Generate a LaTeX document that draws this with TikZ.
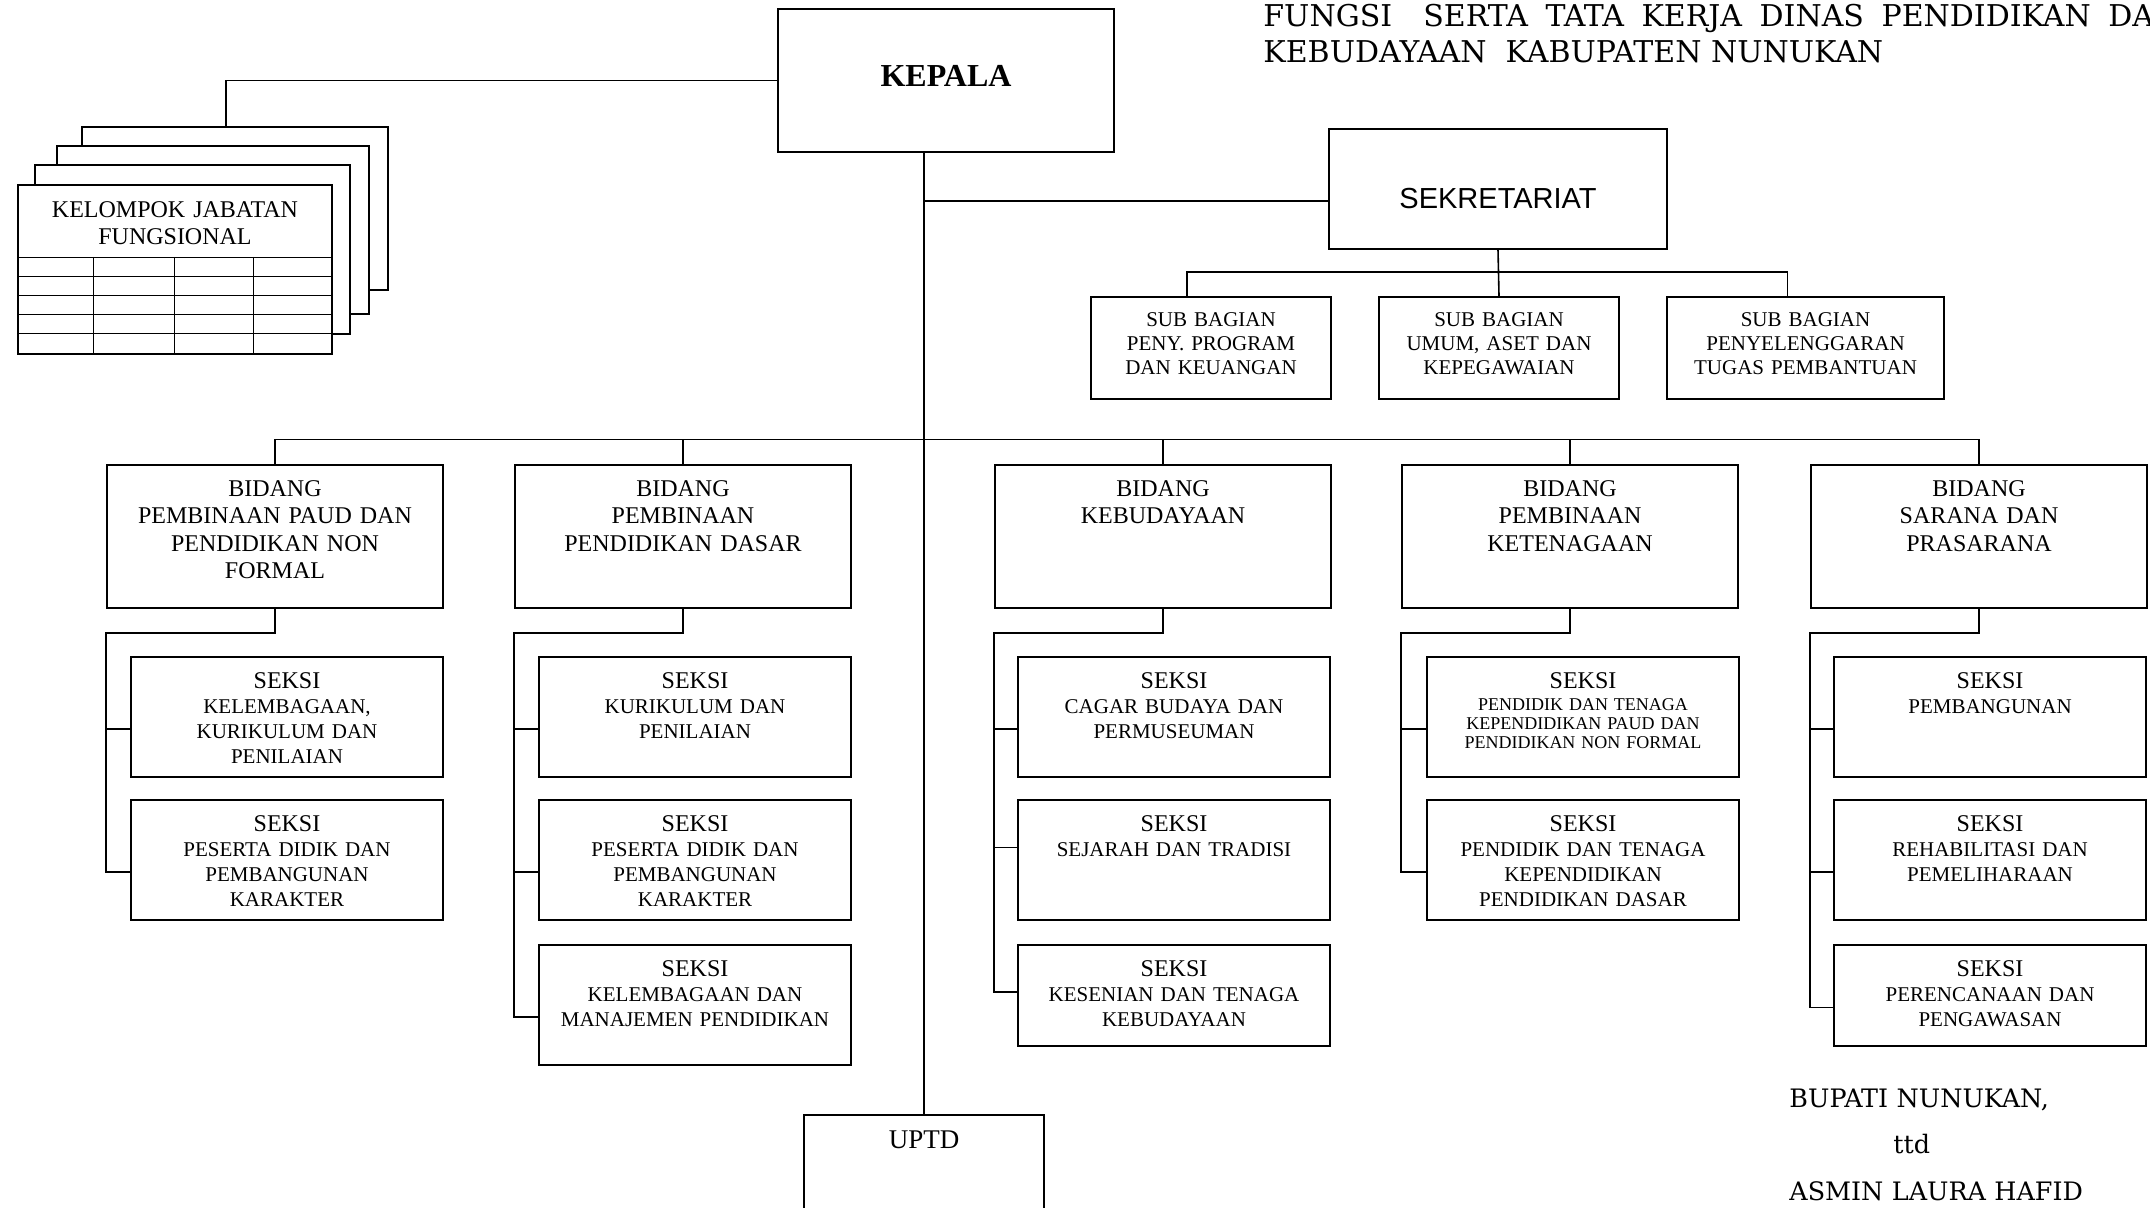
\documentclass[tikz,border=0pt]{standalone}
\usepackage{fontspec}
\setmainfont{Liberation Serif}
\newfontfamily\sekfont{Liberation Sans}
\newfontfamily\bookfont{DejaVu Serif}
\usetikzlibrary{calc}

\tikzset{
  box/.style={draw, line width=1pt, inner sep=0pt, anchor=north west, align=center},
  bidang/.style={box, text width=168pt, text height=15.85pt, text depth=55.9pt, font=\fontsize{12}{13.7}\selectfont},
  seksi/.style={box, text width=156pt, text height=15.6pt, text depth=#1, font=\fontsize{10.5}{12.5}\selectfont},
  seksi/.default=44.4pt,
  subbag/.style={box, text width=#1, text height=14.6pt, text depth=36.4pt, font=\fontsize{10.5}{12}\selectfont},
  subbag/.default=120pt,
  page/.style={draw, line width=1pt, fill=white},
  conn/.style={line width=0.8pt},
  titel/.style={anchor=base west, inner sep=0pt, font=\bookfont\fontsize{15}{16}\selectfont},
}
\newcommand{\seksihead}{{\fontsize{12}{12}\selectfont SEKSI}}

\begin{document}
\begin{tikzpicture}[x=0.5pt,y=0.5pt,yscale=-1]
\useasboundingbox (0,0) rectangle (2150,1208);

% judul
\node[titel] (judul1) at (1263,27) {\makebox[80pt][l]{FUNGSI}\makebox[342.5pt][s]{SERTA TATA KERJA DINAS PENDIDIKAN\ }DAN};
\node[titel] (judul2) at (1263,63) {KEBUDAYAAN\ \ KABUPATEN NUNUKAN};

% kepala, sekretariat, uptd
\node[box, text width=168pt, text height=39pt, text depth=32.5pt, font=\bfseries\fontsize{16}{16}\selectfont] (kepala) at (777,8) {KEPALA};
\node[box, text width=169pt, text height=40pt, text depth=20pt, font=\sekfont\fontsize{14.5}{15}\selectfont] (sek) at (1328,128) {SEKRETARIAT};
\node[box, text width=120pt, text height=16.5pt, text depth=100pt, font=\fontsize{13.5}{14}\selectfont] (uptd) at (803,1114) {UPTD};

% kelompok jabatan fungsional
\draw[page] (82,127) rectangle (388,290);
\draw[page] (57,146) rectangle (369,314);
\draw[page] (35,165) rectangle (350,334);
\node[box, fill=white, text width=157pt, text height=16.3pt, text depth=68.2pt, font=\fontsize{12}{13.5}\selectfont] (jf) at (17,184) {KELOMPOK JABATAN\\FUNGSIONAL};
\foreach \y in {257,276,295,314,333} \draw (jf.west |- 0,\y) -- (jf.east |- 0,\y);
\foreach \x in {93,174,253} \draw (\x,257) -- (\x,0 |- jf.south);
\coordinate (jftop) at (226,127);

% sub bagian
\node[subbag] (sb1) at (1090,296) {SUB BAGIAN\\PENY. PROGRAM\\DAN KEUANGAN};
\node[subbag] (sb2) at (1378,296) {SUB BAGIAN\\UMUM, ASET DAN\\KEPEGAWAIAN};
\node[subbag=138.5pt] (sb3) at (1666,296) {SUB BAGIAN\\PENYELENGGARAN\\TUGAS PEMBANTUAN};

% bidang
\node[bidang] (b1) at (106,463.5) {BIDANG\\PEMBINAAN PAUD DAN\\PENDIDIKAN NON\\FORMAL};
\node[bidang] (b2) at (514,463.5) {BIDANG\\PEMBINAAN\\PENDIDIKAN DASAR};
\node[bidang] (b3) at (994,463.5) {BIDANG\\KEBUDAYAAN};
\node[bidang] (b4) at (1401,463.5) {BIDANG\\PEMBINAAN\\KETENAGAAN};
\node[bidang] (b5) at (1810,463.5) {BIDANG\\SARANA DAN\\PRASARANA};

% seksi
\node[seksi] (s11) at (130,656) {\seksihead\\KELEMBAGAAN,\\KURIKULUM DAN\\PENILAIAN};
\node[seksi] (s12) at (130,799) {\seksihead\\PESERTA DIDIK DAN\\PEMBANGUNAN\\KARAKTER};

\node[seksi] (s21) at (538,656) {\seksihead\\KURIKULUM DAN\\PENILAIAN};
\node[seksi] (s22) at (538,799) {\seksihead\\PESERTA DIDIK DAN\\PEMBANGUNAN\\KARAKTER};
\node[seksi] (s23) at (538,944) {\seksihead\\KELEMBAGAAN DAN\\MANAJEMEN PENDIDIKAN};

\node[seksi] (s31) at (1017,656) {\seksihead\\CAGAR BUDAYA DAN\\PERMUSEUMAN};
\node[seksi] (s32) at (1017,799) {\seksihead\\SEJARAH DAN TRADISI};
\node[seksi=34.9pt] (s33) at (1017,944) {\seksihead\\KESENIAN DAN TENAGA\\KEBUDAYAAN};

\node[seksi, font=\fontsize{9}{9.3}\selectfont] (s41) at (1426,656) {\seksihead\\[2pt]PENDIDIK DAN TENAGA\\KEPENDIDIKAN PAUD DAN\\PENDIDIKAN NON FORMAL};
\node[seksi] (s42) at (1426,799) {\seksihead\\PENDIDIK DAN TENAGA\\KEPENDIDIKAN\\PENDIDIKAN DASAR};

\node[seksi] (s51) at (1833,656) {\seksihead\\PEMBANGUNAN};
\node[seksi] (s52) at (1833,799) {\seksihead\\REHABILITASI DAN\\PEMELIHARAAN};
\node[seksi=34.9pt] (s53) at (1833,944) {\seksihead\\PERENCANAAN DAN\\PENGAWASAN};

\node[titel, text width=200pt, align=left, font=\bookfont\fontsize{12.7}{23.25}\selectfont] (ttd) at (1789,1107) {BUPATI NUNUKAN,\\\hspace*{52pt}ttd\\ASMIN LAURA HAFID};

% garis
\draw[conn] (kepala.west) -| (jftop);
\draw[conn] (kepala.south -| uptd.north) -- (uptd.north);
\coordinate (sekin) at ($(sek.west)+(0,12)$);
\draw[conn] (sekin) -- (sekin -| uptd.north);
\draw[conn] (sek.south) -- (sb2.north);
\draw[conn] ($(sb1.north)+(-24,0)$) -- ++(0,-24) -| ($(sb3.north)+(-18,0)$);

\draw[conn] (b1.north) -- ++(0,-24) -| (b5.north);
\draw[conn] (b2.north) -- ++(0,-24);
\draw[conn] (b3.north) -- ++(0,-24);
\draw[conn] (b4.north) -- ++(0,-24);

\draw[conn] (b1.south) -- ++(0,24) -| ($(s12.west)+(-24,12)$) -- ($(s12.west)+(0,12)$);
\draw[conn] ($(s11.west)+(-24,12)$) -- ($(s11.west)+(0,12)$);

\draw[conn] (b2.south) -- ++(0,24) -| ($(s23.west)+(-24,12)$) -- ($(s23.west)+(0,12)$);
\draw[conn] ($(s21.west)+(-24,12)$) -- ($(s21.west)+(0,12)$);
\draw[conn] ($(s22.west)+(-24,12)$) -- ($(s22.west)+(0,12)$);

\draw[conn] (b3.south) -- ++(0,24) -| ($(s33.west)+(-23,-3.5)$) -- ($(s33.west)+(0,-3.5)$);
\draw[conn] ($(s31.west)+(-23,12)$) -- ($(s31.west)+(0,12)$);
\draw[conn] ($(s32.west)+(-23,-12.5)$) -- ($(s32.west)+(0,-12.5)$);

\draw[conn] (b4.south) -- ++(0,24) -| ($(s42.west)+(-25,12)$) -- ($(s42.west)+(0,12)$);
\draw[conn] ($(s41.west)+(-25,12)$) -- ($(s41.west)+(0,12)$);

\draw[conn] (b5.south) -- ++(0,24) -| ($(s53.west)+(-23,12)$) -- ($(s53.west)+(0,12)$);
\draw[conn] ($(s51.west)+(-23,12)$) -- ($(s51.west)+(0,12)$);
\draw[conn] ($(s52.west)+(-23,12)$) -- ($(s52.west)+(0,12)$);

\end{tikzpicture}
\end{document}
